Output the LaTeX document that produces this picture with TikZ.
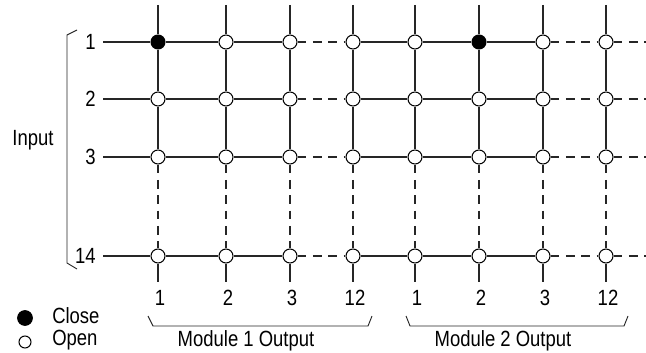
\documentclass[tikz,border=0pt]{standalone}
\usepackage{fontspec}
\setmainfont{Liberation Sans}[FakeStretch=0.84]
\usetikzlibrary{positioning}

\begin{document}
\begin{tikzpicture}[
    x=0.75pt, y=-0.75pt,
    xpoint/.style={draw, circle, minimum size=10.5pt, inner sep=0pt, fill=white, line width=0.8pt},
    closed/.style={xpoint, fill=black},
    wire/.style={draw=black!85, line width=0.9pt},
    gap/.style={wire, dash pattern=on 6.5pt off 5pt},
    lbl/.style={font=\fontsize{16.5}{18}\selectfont, inner sep=0pt}
]
    \useasboundingbox (0,0) rectangle (646,353);

    % ================= CROSSPOINTS =================
    \foreach \c/\x/\s in {1/158/closed,2/226/xpoint,3/290/xpoint,4/353/xpoint,
                          5/415/xpoint,6/479/closed,7/543/xpoint,8/606/xpoint}
        \node[\s] (n-\c-1) at (\x,42) {};
    \foreach \c/\x in {1/158,2/226,3/290,4/353,5/415,6/479,7/543,8/606}
        \foreach \r/\y in {2/99,3/157,4/256}
            \node[xpoint] (n-\c-\r) at (\x,\y) {};

    % ================= INPUT ROWS =================
    \foreach \r/\y/\t in {1/42/1,2/99/2,3/157/3,4/256/14} {
        \node[lbl, anchor=east] (in-\r) at (96,\y) {\t};
        \coordinate (rs-\r) at (103,\y);
        \coordinate (re-\r) at (646,\y);
        \draw[wire] (rs-\r) -- (n-1-\r);
        \foreach \a/\b in {1/2,2/3,4/5,5/6,6/7}
            \draw[wire] (n-\a-\r) -- (n-\b-\r);
        \foreach \a/\b in {3/4,7/8}
            \draw[gap] (n-\a-\r) -- (n-\b-\r);
        \draw[gap] (n-8-\r) -- (re-\r);
    }

    % ================= OUTPUT COLUMNS =================
    \foreach \c/\x/\t in {1/158/1,2/226/2,3/290/3,4/353/12,5/415/1,6/479/2,7/543/3,8/606/12} {
        \coordinate (cs-\c) at (\x,5);
        \coordinate (ce-\c) at (\x,282);
        \node[lbl] (out-\c) at (\x+2,298) {\t};
        \draw[wire] (cs-\c) -- (n-\c-1);
        \draw[wire] (n-\c-1) -- (n-\c-2);
        \draw[wire] (n-\c-2) -- (n-\c-3);
        \draw[gap] (n-\c-3) -- (n-\c-4);
        \draw[wire] (n-\c-4) -- (ce-\c);
    }

    % ================= BRACKETS =================
    \node[lbl] (input) at (33,140) {Input};
    \draw[wire, line width=0.7pt] (77,30) -- (67,35) -- (67,263) -- (77,269);

    \draw[wire, line width=0.7pt] (148,316) -- (153,326) -- (368,326) -- (372,316);
    \node[lbl] (mod1) at (246,341) {Module 1 Output};
    \draw[wire, line width=0.7pt] (406,316) -- (410,326) -- (624,326) -- (628,316);
    \node[lbl] (mod2) at (503,341) {Module 2 Output};

    % ================= LEGEND =================
    \node[closed, minimum size=11pt] (key-close) at (25,318) {};
    \node[lbl, anchor=west] (txt-close) at (52,316) {Close};
    \node[xpoint, minimum size=9pt] (key-open) at (25,342) {};
    \node[lbl, anchor=west] (txt-open) at (52,340) {Open};

\end{tikzpicture}
\end{document}
